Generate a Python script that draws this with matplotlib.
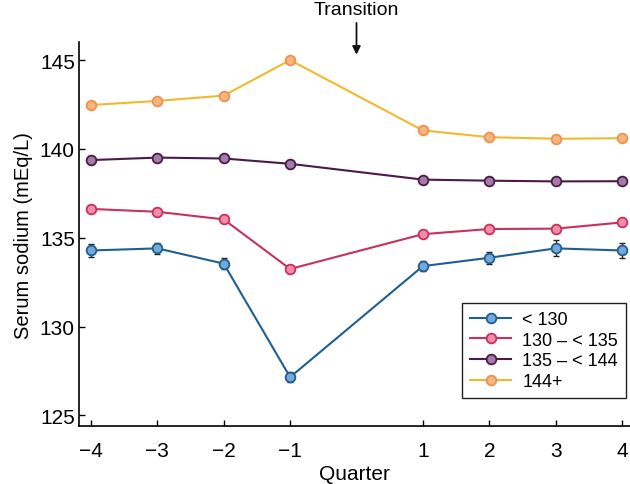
import numpy as np
import matplotlib
matplotlib.use('Agg')
import matplotlib.pyplot as plt

plt.rcParams['font.family'] = ['Liberation Sans', 'DejaVu Sans']

quarters = [-4, -3, -2, -1, 1, 2, 3, 4]

groups = ['< 130', '130 \u2013 < 135', '135 \u2013 < 144', '144+']

sodium_lt130 = [134.28, 134.40, 133.54, 127.15, 133.40, 133.87, 134.40, 134.28]
sodium_130_135 = [136.62, 136.46, 136.03, 133.24, 135.20, 135.49, 135.51, 135.86]
sodium_135_144 = [139.37, 139.51, 139.46, 139.16, 138.27, 138.21, 138.17, 138.18]
sodium_144p = [142.47, 142.70, 143.00, 145.00, 141.04, 140.66, 140.57, 140.60]

err_lt130 = [0.35, 0.32, 0.30, 0.28, 0.30, 0.35, 0.45, 0.40]
err_130_135 = [0.08, 0.08, 0.08, 0.10, 0.08, 0.08, 0.08, 0.08]
err_135_144 = [0.05, 0.05, 0.05, 0.05, 0.05, 0.05, 0.05, 0.05]
err_144p = [0.08, 0.08, 0.08, 0.10, 0.08, 0.08, 0.08, 0.08]

series = [sodium_lt130, sodium_130_135, sodium_135_144, sodium_144p]
errors = [err_lt130, err_130_135, err_135_144, err_144p]
line_colors = ['#1f5f8f', '#c8305e', '#4a1a48', '#f0b92e']
face_colors = ['#74a9dd', '#f28ca8', '#a57ca8', '#f7b47c']
edge_colors = ['#1f5f8f', '#c8305e', '#4a1a48', '#e99353']

fig = plt.figure(figsize=(6.3, 4.85), dpi=100)
ax = fig.add_axes([0.1254, 0.1196, 0.8746, 0.7911])

handles = []
for vals, err, lc, fc, ec in zip(series, errors, line_colors, face_colors, edge_colors):
    ax.errorbar(quarters, vals, yerr=err, fmt='none', ecolor='#222222',
                elinewidth=1.0, capsize=2.5, capthick=1.0, zorder=2)
    h, = ax.plot(quarters, vals, '-o', color=lc, lw=1.5, ms=7,
                 markerfacecolor=fc, markeredgecolor=ec, markeredgewidth=1.3,
                 zorder=3)
    handles.append(h)

ax.set_xlim(-4.18, 4.12)
ax.set_ylim(124.4, 146.0)
ax.set_xticks(quarters)
ax.set_xticklabels(['\u22124', '\u22123', '\u22122', '\u22121', '1', '2', '3', '4'])
ax.set_yticks([125, 130, 135, 140, 145])

for side in ['top', 'right']:
    ax.spines[side].set_visible(False)
for side in ['left', 'bottom']:
    ax.spines[side].set_linewidth(1.2)
ax.tick_params(direction='in', length=4, width=1.0, labelsize=15)
ax.tick_params(axis='x', pad=11)
ax.tick_params(axis='y', pad=3)

ax.set_xlabel('Quarter', fontsize=15, labelpad=3)
ax.set_ylabel('Serum sodium (mEq/L)', fontsize=14.5, labelpad=5)

ax.annotate('', xy=(0, 145.15), xytext=(0, 147.25), annotation_clip=False,
            arrowprops=dict(arrowstyle='-|>', color='#111111', lw=1.3,
                            mutation_scale=12))
ax.text(0, 147.82, 'Transition', ha='center', va='center', fontsize=14,
        clip_on=False)

leg = ax.legend(handles, groups, loc='lower right', bbox_to_anchor=(0.993, 0.073),
                borderaxespad=0, fontsize=13, frameon=True, fancybox=False,
                framealpha=1, edgecolor='#222222', handlelength=2.3,
                borderpad=0.45, labelspacing=0.2, handletextpad=0.6)
leg.get_frame().set_linewidth(1.0)

plt.savefig('out.png', dpi=100)
